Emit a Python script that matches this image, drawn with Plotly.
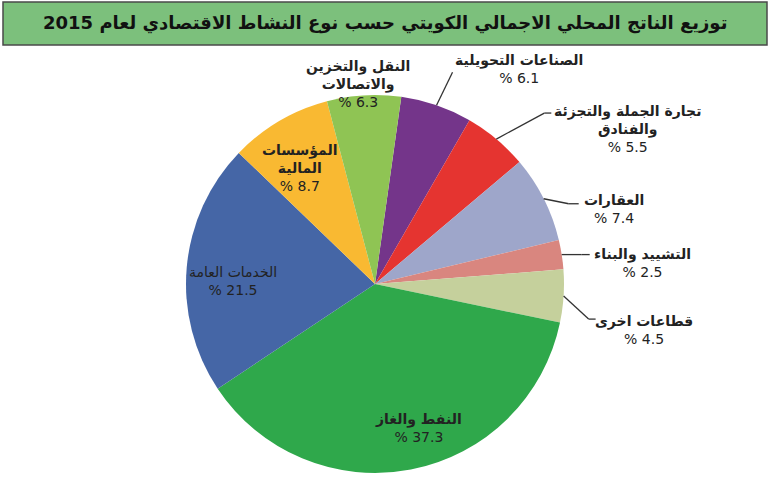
import math
import plotly.graph_objects as go

# ---------------- data ----------------
title_text = "توزيع الناتج المحلي الاجمالي الكويتي حسب نوع النشاط الاقتصادي لعام 2015"
sectors = [
    "الصناعات التحويلية",
    "تجارة الجملة والتجزئة|والفنادق",
    "العقارات",
    "التشييد والبناء",
    "قطاعات اخرى",
    "النفط والغاز",
    "الخدمات العامة",
    "المؤسسات|المالية",
    "النقل والتخزين|والاتصالات",
]
shares = [6.1, 5.5, 7.4, 2.5, 4.5, 37.3, 21.5, 8.7, 6.3]
colors = ["#74358A", "#E53430", "#9EA6CA", "#D9867F", "#C5D09C",
          "#2FA84B", "#4566A6", "#F9B932", "#8FC454"]

# ---------------- geometry / style ----------------
W, H = 770, 499
CX, CY, R = 375, 284, 189
ROT = 8
FONT = "DejaVu Sans"
TXT = "#222222"

# label placement (style): inside -> (dtheta, radius factor); outside -> elbow offset, horiz len, text offset
place = {
    0: ("out", (16, -33), 0, (82, -36)),
    1: ("out", (48, -26), 7, (131, -10)),
    2: ("out", (25, 5), 10, (70, 10)),
    3: ("out", (20, 0), 8, (81, 8)),
    4: ("out", (25, 23), 7, (80, 34)),
    5: ("in", -6, 0.795),
    6: ("in", -4, 0.75),
    7: ("in", -2.5, 0.73),
    8: ("in", -1.6, 1.06),
}
bold_name = [True, True, True, True, True, True, False, True, True]


def px(x, y):
    return x / W, 1 - y / H


fig = go.Figure()
fig.add_trace(go.Pie(
    labels=[s.replace("|", " ") for s in sectors],
    values=shares,
    marker=dict(colors=colors, line=dict(width=0)),
    sort=False,
    direction="clockwise",
    rotation=ROT,
    textinfo="none",
    hoverinfo="label+value",
    showlegend=False,
    domain=dict(x=[(CX - R) / W, (CX + R) / W],
                y=[1 - (CY + R) / H, 1 - (CY - R) / H]),
))

total = sum(shares)
cum = 0.0
annotations = []
shapes = []
for i, (name, v) in enumerate(zip(sectors, shares)):
    mid = ROT + (cum + v / 2) / total * 360.0
    cum += v
    nm = name.replace("|", "<br>")
    if bold_name[i]:
        nm = "<b>" + nm.replace("<br>", "</b><br><b>") + "</b>"
    text = nm + "<br>% " + f"{v:.1f}"
    p = place[i]
    if p[0] == "in":
        ang = math.radians(mid + p[1])
        r = R * p[2]
        tx, ty = CX + r * math.sin(ang), CY - r * math.cos(ang)
    else:
        ang = math.radians(mid)
        ex, ey = CX + R * math.sin(ang), CY - R * math.cos(ang)
        bx, by = ex + p[1][0], ey + p[1][1]
        hx = bx + p[2]
        for (x0, y0, x1, y1) in [(ex, ey, bx, by), (bx, by, hx, by)]:
            if abs(x1 - x0) + abs(y1 - y0) < 0.5:
                continue
            a0, b0 = px(x0, y0)
            a1, b1 = px(x1, y1)
            shapes.append(dict(type="line", xref="paper", yref="paper",
                               x0=a0, y0=b0, x1=a1, y1=b1,
                               line=dict(color="#333333", width=1.3)))
        tx, ty = ex + p[3][0], ey + p[3][1]
    ax_, ay_ = px(tx, ty)
    annotations.append(dict(x=ax_, y=ay_, xref="paper", yref="paper",
                            text=text, showarrow=False,
                            xanchor="center", yanchor="middle", align="center",
                            font=dict(family=FONT, size=14, color=TXT)))

# title box
shapes.append(dict(type="rect", xref="paper", yref="paper",
                   x0=3 / W, x1=767 / W, y0=1 - 45 / H, y1=1 - 2 / H,
                   fillcolor="#7CC07C", line=dict(color="#4a4a4a", width=1.5),
                   layer="below"))
tx, ty = px(385, 23)
annotations.append(dict(x=tx, y=ty, xref="paper", yref="paper",
                        text="<b>" + title_text + "</b>", showarrow=False,
                        xanchor="center", yanchor="middle",
                        font=dict(family=FONT, size=18, color="#111111")))

fig.update_layout(
    width=W, height=H, autosize=False,
    margin=dict(l=0, r=0, t=0, b=0),
    paper_bgcolor="white", plot_bgcolor="white",
    annotations=annotations, shapes=shapes,
)
fig.write_html("out.html")
